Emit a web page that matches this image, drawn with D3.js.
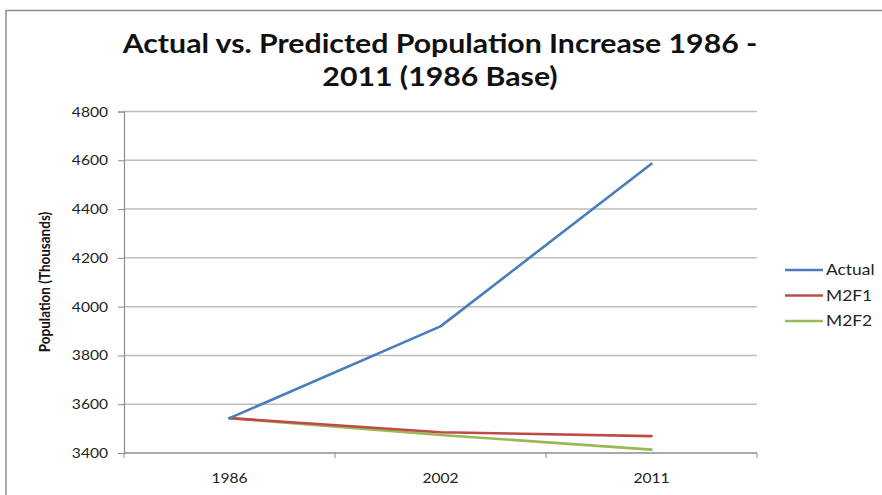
<!DOCTYPE html>
<html>
<head>
<meta charset="utf-8">
<script src="https://cdn.jsdelivr.net/npm/d3@7"></script>
<style>
  html, body { margin: 0; padding: 0; background: #fff; }
  svg { display: block; }
  text { font-family: Lato, "Open Sans", sans-serif; }
</style>
</head>
<body>
<svg id="chart" width="882" height="495"></svg>
<script>
// Census years and population (thousands), actual vs. two model forecasts
const years = ["1986", "2002", "2011"];
const actual = [3543, 3919, 4586];
const m2f1 = [3543, 3485, 3469];
const m2f2 = [3543, 3474, 3414];
const yTicks = [3400, 3600, 3800, 4000, 4200, 4400, 4600, 4800];
const seriesNames = ["Actual", "M2F1", "M2F2"];
const seriesColors = ["#4a7ebb", "#be4b48", "#98b954"];

const series = [actual, m2f1, m2f2].map((vals, i) => ({
  name: seriesNames[i],
  color: seriesColors[i],
  values: vals.map((v, j) => ({ year: years[j], value: v }))
}));

const svg = d3.select("#chart");
const W = 882, H = 495;
const plot = { left: 124, right: 757, top: 111.5, bottom: 453 };
const SX = 1.2; // text is drawn slightly widened

// places a horizontally widened text at (x, y)
function wideText(parent, x, y, str, anchor, size, sx = SX) {
  return parent.append("text")
    .attr("transform", `translate(${x},${y}) scale(${sx},1)`)
    .attr("text-anchor", anchor)
    .attr("font-size", size)
    .text(str);
}

// outer chart frame
svg.append("rect")
  .attr("x", 6).attr("y", 10.5)
  .attr("width", W + 10).attr("height", H + 10)
  .attr("fill", "#fff")
  .attr("stroke", "#8c8c8c").attr("stroke-width", 1.5);

// title, two lines
const titleG = svg.append("g").attr("font-weight", "bold").attr("fill", "#111");
wideText(titleG, 440, 53, "Actual vs. Predicted Population Increase 1986 -", "middle", 27.5, 1.1);
wideText(titleG, 440, 86, "2011 (1986 Base)", "middle", 27.5, 1.1);

const x = d3.scaleBand().domain(years).range([plot.left, plot.right]);
const y = d3.scaleLinear().domain([3400, 4800]).range([plot.bottom, plot.top]);

// horizontal gridlines
svg.append("g")
  .selectAll("line")
  .data(yTicks.filter(t => t > 3400))
  .join("line")
  .attr("x1", plot.left).attr("x2", plot.right)
  .attr("y1", d => y(d)).attr("y2", d => y(d))
  .attr("stroke", "#bdbdbd").attr("stroke-width", 1.5);

// y axis
const yAxis = svg.append("g")
  .attr("transform", `translate(${plot.left},0)`)
  .call(d3.axisLeft(y).tickValues(yTicks).tickSize(6).tickFormat(d3.format("d")));
yAxis.select(".domain").attr("stroke", "#8c8c8c").attr("stroke-width", 1.2);
yAxis.selectAll(".tick line").attr("stroke", "#8c8c8c");
yAxis.selectAll(".tick text")
  .attr("x", null).attr("dy", null)
  .attr("transform", `translate(-16,4.5) scale(${SX},1)`)
  .attr("font-family", "Lato, sans-serif")
  .attr("font-size", 13).attr("fill", "#222");

// x axis with tick marks between categories
const xAxisG = svg.append("g").attr("transform", `translate(0,${plot.bottom})`);
xAxisG.append("line")
  .attr("x1", plot.left).attr("x2", plot.right)
  .attr("stroke", "#8c8c8c").attr("stroke-width", 1.5);
const bounds = years.map(yr => x(yr)).concat([plot.right]);
xAxisG.selectAll("line.tk")
  .data(bounds)
  .join("line").attr("class", "tk")
  .attr("x1", d => d).attr("x2", d => d)
  .attr("y1", 0).attr("y2", 5)
  .attr("stroke", "#8c8c8c");
years.forEach(yr => {
  wideText(xAxisG, x(yr) + x.bandwidth() / 2, 30, yr, "middle", 13).attr("fill", "#222");
});

// y axis title
svg.append("text")
  .attr("transform", "translate(50,282) rotate(-90) scale(1,1.15)")
  .attr("text-anchor", "middle")
  .attr("font-size", 13.5).attr("font-weight", "bold")
  .attr("fill", "#111")
  .text("Population (Thousands)");

// series lines
const line = d3.line()
  .x(d => x(d.year) + x.bandwidth() / 2)
  .y(d => y(d.value));
svg.append("g")
  .selectAll("path")
  .data(series.slice().reverse())
  .join("path")
  .attr("d", d => line(d.values))
  .attr("fill", "none")
  .attr("stroke", d => d.color)
  .attr("stroke-width", 2.6)
  .attr("stroke-linejoin", "round")
  .attr("stroke-linecap", "round");

// legend
const legend = svg.append("g").attr("transform", "translate(785,270)");
series.forEach((s, i) => {
  const row = legend.append("g").attr("transform", `translate(0,${i * 25.5})`);
  row.append("line")
    .attr("x1", 0).attr("x2", 38)
    .attr("stroke", s.color).attr("stroke-width", 2.6);
  wideText(row, 41, 5, s.name, "start", 14.5).attr("fill", "#222");
});
</script>
</body>
</html>
